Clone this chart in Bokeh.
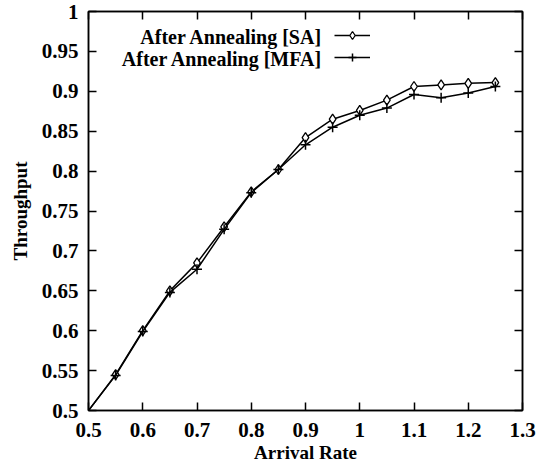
from bokeh.plotting import figure
from bokeh.models import (ColumnDataSource, CDSView, IndexFilter, LinearAxis, FixedTicker,
                          Range1d, Legend, LegendItem, Label)
from bokeh.embed import file_html
from bokeh.resources import INLINE

# ---- data ----
arrival_rate = [0.5, 0.55, 0.6, 0.65, 0.7, 0.75, 0.8, 0.85, 0.9, 0.95, 1.0, 1.05, 1.1, 1.15, 1.2, 1.25]
throughput_sa = [0.5, 0.545, 0.6, 0.65, 0.685, 0.73, 0.774, 0.802, 0.842, 0.865, 0.876, 0.889, 0.906, 0.908, 0.910, 0.911]
throughput_mfa = [0.5, 0.544, 0.599, 0.648, 0.677, 0.727, 0.773, 0.802, 0.833, 0.855, 0.870, 0.879, 0.896, 0.892, 0.898, 0.906]
series_names = ["After Annealing [SA]", "After Annealing [MFA]"]
x_ticks = [0.5, 0.6, 0.7, 0.8, 0.9, 1.0, 1.1, 1.2, 1.3]
x_tick_labels = ["0.5", "0.6", "0.7", "0.8", "0.9", "1", "1.1", "1.2", "1.3"]
y_ticks = [0.5, 0.55, 0.6, 0.65, 0.7, 0.75, 0.8, 0.85, 0.9, 0.95, 1.0]
y_tick_labels = ["0.5", "0.55", "0.6", "0.65", "0.7", "0.75", "0.8", "0.85", "0.9", "0.95", "1"]
x_title = "Arrival Rate"
y_title = "Throughput"

FONT = "Liberation Serif"

src = ColumnDataSource(dict(x=arrival_rate, sa=throughput_sa, mfa=throughput_mfa))
view = CDSView(filter=IndexFilter(list(range(1, len(arrival_rate)))))

p = figure(width=542, height=471, output_backend="svg", toolbar_location=None,
           x_range=Range1d(0.5, 1.3), y_range=Range1d(0.5, 1.0),
           min_border_left=88, min_border_right=20, min_border_top=11, min_border_bottom=61,
           background_fill_color="white", border_fill_color="white")
p.grid.visible = False
p.outline_line_color = "black"
p.outline_line_width = 1.5

l_sa = p.line("x", "sa", source=src, line_color="black", line_width=1.5)
m_sa = p.scatter("x", "sa", source=src, view=view, marker="diamond", size=10,
                 fill_color="white", line_color="black", line_width=1.3)
l_mfa = p.line("x", "mfa", source=src, line_color="black", line_width=1.5)
m_mfa = p.scatter("x", "mfa", source=src, view=view, marker="cross", size=10,
                  line_color="black", line_width=1.5)

xo = {v: s for v, s in zip(x_ticks, x_tick_labels)}
yo = {v: s for v, s in zip(y_ticks, y_tick_labels)}

for ax in p.xaxis:
    ax.ticker = FixedTicker(ticks=x_ticks)
    ax.major_label_overrides = xo
for ax in p.yaxis:
    ax.ticker = FixedTicker(ticks=y_ticks)
    ax.major_label_overrides = yo

for ax in list(p.xaxis) + list(p.yaxis):
    ax.major_tick_in = 8
    ax.major_tick_out = 0
    ax.minor_tick_in = 0
    ax.minor_tick_out = 0
    ax.axis_line_width = 1.5
    ax.major_tick_line_width = 1.5
    ax.major_label_text_font = FONT
    ax.major_label_text_font_style = "bold"
    ax.major_label_text_font_size = "21px"
    ax.major_label_text_color = "#000000"
    ax.axis_label_text_font = FONT
    ax.axis_label_text_font_style = "bold"
    ax.axis_label_text_font_size = "19px"
    ax.axis_label_text_color = "#000000"

p.xaxis.axis_label = x_title
p.yaxis.axis_label = y_title
p.xaxis.axis_label_text_color = "#000000"
p.yaxis.axis_label_text_color = "#000000"
p.xaxis.major_label_standoff = 12
p.yaxis.major_label_standoff = 10
p.xaxis.axis_label_standoff = 2
p.yaxis.axis_label_standoff = 8

# mirrored axes (ticks only, no labels)
top = LinearAxis(ticker=FixedTicker(ticks=x_ticks))
right = LinearAxis(ticker=FixedTicker(ticks=y_ticks))
for ax in (top, right):
    ax.major_tick_in = 8
    ax.major_tick_out = 0
    ax.minor_tick_in = 0
    ax.minor_tick_out = 0
    ax.axis_line_width = 1.5
    ax.major_tick_line_width = 1.5
    ax.major_label_text_font_size = "1px"
    ax.major_label_text_color = None
    ax.major_label_standoff = 0
p.add_layout(top, "above")
p.add_layout(right, "right")

# legend: text right-aligned, sample to its right
legend = Legend(items=[LegendItem(label=" ", renderers=[l_sa, m_sa]),
                       LegendItem(label=" ", renderers=[l_mfa, m_mfa])],
                location=(246, 343), glyph_width=36, glyph_height=20, label_height=20,
                label_width=0, label_standoff=0, spacing=2, padding=0, margin=0,
                background_fill_alpha=0, border_line_alpha=0,
                label_text_font_size="1px", label_text_color=None)
p.add_layout(legend, "center")

for i, name in enumerate(series_names):
    p.add_layout(Label(x=234, y=374 - 22 * i, x_units="screen", y_units="screen", text=name,
                       text_align="right", text_baseline="middle", text_font=FONT,
                       text_font_style="bold", text_font_size="20px", text_color="#000000"))

open("out.html", "w").write(file_html(p, INLINE))
